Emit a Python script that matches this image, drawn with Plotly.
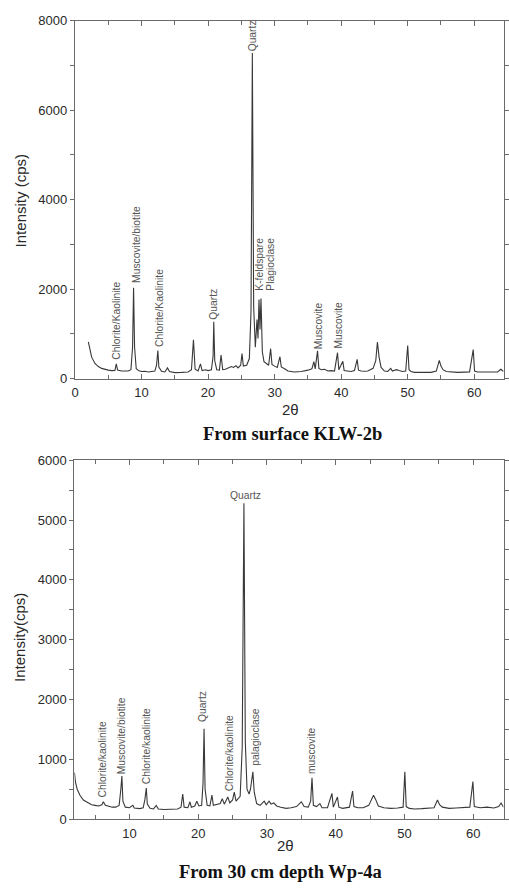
import plotly.graph_objects as go

# --- XRD pattern, surface sample KLW-2b ---
two_theta_top = [
    2.0, 2.2, 2.5, 3.0, 3.5, 4.0, 4.5, 5.0, 5.5, 6.0, 6.2, 6.4, 7.0, 7.5, 8.0, 8.4, 8.65, 8.8, 8.95, 9.2,
    9.6, 10.0, 10.5, 11.0, 11.5, 12.0, 12.25, 12.45, 12.6, 13.0, 13.5, 13.9, 14.2, 15.0, 16.0, 17.0, 17.5,
    17.8, 18.05, 18.5, 18.85, 19.1, 19.6, 20.0, 20.5, 20.75, 20.85, 21.0, 21.3, 21.7, 21.95, 22.2, 22.6,
    23.0, 23.5, 23.8, 24.2, 24.5, 24.9, 25.1, 25.3, 25.8, 26.2, 26.45, 26.65, 26.85, 27.1, 27.35, 27.5,
    27.65, 27.8, 27.95, 28.15, 28.4, 28.8, 29.1, 29.4, 29.6, 30.0, 30.4, 30.8, 31.0, 31.5, 32.0, 33.0,
    34.0, 35.0, 35.6, 35.9, 36.1, 36.45, 36.65, 37.0, 37.5, 38.0, 38.5, 39.0, 39.45, 39.65, 40.25, 40.45,
    41.0, 41.5, 42.0, 42.4, 42.6, 43.0, 43.5, 44.0, 44.8, 45.2, 45.45, 45.7, 46.0, 46.5, 47.0, 47.45,
    47.7, 48.3, 48.7, 49.2, 49.7, 50.0, 50.2, 50.5, 51.0, 52.0, 53.0, 53.5, 54.3, 54.75, 55.0, 55.3,
    55.8, 56.5, 57.5, 58.5, 59.3, 59.85, 60.05, 60.5, 61.5, 62.5, 63.5, 64.0, 64.4,
]
intensity_top = [
    820, 650, 480, 340, 270, 230, 205, 190, 180, 185, 330, 190, 170, 165, 170, 200, 700, 2030, 700, 220,
    175, 160, 165, 150, 160, 170, 300, 630, 260, 165, 150, 240, 160, 135, 140, 150, 200,
    870, 210, 170, 330, 180, 200, 180, 200, 500, 1270, 400, 200, 190, 530, 200, 210,
    240, 270, 250, 290, 240, 300, 560, 280, 300, 450, 1500, 7280, 1600, 700, 1320, 900,
    1770, 1100, 1790, 600, 380, 330, 300, 670, 320, 280, 250, 490, 260, 220, 170, 150,
    160, 190, 220, 380, 220, 620, 230, 200, 210, 170, 180, 170, 580, 200, 390, 180,
    170, 160, 180, 430, 190, 170, 165, 170, 230, 400, 820, 480, 250, 170, 160, 230,
    170, 200, 180, 160, 170, 740, 200, 160, 140, 135, 145, 140, 170, 410, 280, 200,
    160, 145, 140, 145, 150, 650, 170, 150, 150, 140, 150, 210, 160,
]

# --- XRD pattern, 30 cm depth sample Wp-4a ---
two_theta_bot = [
    2.0, 2.15, 2.4, 2.8, 3.3, 4.0, 4.5, 5.0, 5.5, 6.0, 6.2, 6.5, 7.0, 7.5, 8.0, 8.5, 8.75, 8.9, 9.05, 9.4,
    10.0, 10.5, 10.7, 11.5, 12.0, 12.25, 12.45, 12.6, 13.0, 13.5, 13.9, 14.2, 15.0, 16.0, 17.0, 17.5,
    17.75, 17.95, 18.5, 18.8, 19.0, 19.5, 19.8, 20.1, 20.5, 20.7, 20.85, 21.0, 21.3, 21.7, 22.0, 22.2,
    22.7, 23.2, 23.5, 23.8, 24.3, 24.6, 25.0, 25.25, 25.5, 25.8, 26.1, 26.4, 26.65, 26.85, 27.1, 27.4,
    27.6, 27.95, 28.15, 28.5, 29.0, 29.6, 29.9, 30.3, 30.6, 31.0, 31.4, 32.0, 32.8, 33.5, 34.3, 35.0,
    35.4, 36.0, 36.35, 36.55, 36.75, 37.2, 37.7, 38.0, 38.8, 39.45, 39.65, 40.25, 40.45, 41.0, 42.0,
    42.45, 42.65, 43.2, 44.0, 44.8, 45.3, 45.5, 45.8, 46.2, 47.0, 48.0, 49.0, 49.8, 50.05, 50.25, 50.7,
    51.5, 52.5, 53.5, 54.3, 54.8, 55.1, 55.5, 56.5, 57.5, 58.5, 59.5, 59.95, 60.15, 61.0, 62.0, 63.0,
    63.7, 64.05, 64.4,
]
intensity_bot = [
    780, 620, 500, 400, 320, 270, 240, 230, 220, 240, 290, 230, 210, 200, 200, 230, 500, 720, 300, 200,
    190, 230, 185, 175, 190, 330, 520, 250, 180, 170, 230, 170, 160, 165, 170, 200,
    420, 200, 190, 290, 200, 220, 300, 220, 230, 600, 1510, 500, 230, 220, 400, 230,
    240, 260, 340, 250, 370, 270, 320, 450, 300, 340, 380, 1200, 5280, 1300, 500, 420,
    500, 790, 450, 260, 230, 300, 240, 300, 250, 270, 220, 200, 180, 190, 210, 290,
    210, 200, 300, 690, 230, 210, 260, 190, 190, 430, 200, 370, 200, 180, 200,
    470, 210, 190, 190, 230, 370, 400, 330, 220, 190, 180, 185, 200, 790, 210, 180,
    170, 175, 180, 190, 320, 240, 200, 180, 185, 190, 200, 630, 210, 190, 200, 185,
    210, 270, 200,
]

# Phase labels: (text, 2-theta, intensity at the label's lower end)
labels_top = [
    ("Chlorite/Kaolinite", 6.3, 400),
    ("Muscovite/biotite", 9.25, 2120),
    ("Chlorite/Kaolinite", 12.8, 690),
    ("Quartz", 20.85, 1300),
    ("Quartz", 26.65, 7290),
    ("K-feldspare", 27.7, 1940),
    ("Plagioclase", 29.35, 1940),
    ("Muscovite", 36.7, 630),
    ("Muscovite", 39.6, 650),
]
labels_bot = [
    ("Chlorite/kaolinite", 6.05, 350),
    ("Muscovite/biotite", 8.76, 740),
    ("Chlorite/kaolinite", 12.4, 565),
    ("Quartz", 20.7, 1600),
    ("Chlorite/kaolinite", 24.5, 450),
    ("palagioclase", 28.2, 870),
    ("muscovite", 36.5, 740),
]
quartz_bot_label = ("Quartz", 26.9, 5410)

W, H = 509, 893
LINE = "#383838"
AXIS = "#6a6a6a"
TICKFONT = dict(family="Liberation Sans, Arial", size=13, color="#2a2a2a")
LABELFONT = dict(family="Liberation Sans, Arial", size=10.3, color="#555555")

fig = go.Figure()
fig.add_trace(go.Scatter(x=two_theta_top, y=intensity_top, mode="lines",
                         line=dict(color=LINE, width=1.1), xaxis="x", yaxis="y", showlegend=False))
fig.add_trace(go.Scatter(x=two_theta_bot, y=intensity_bot, mode="lines",
                         line=dict(color=LINE, width=1.1), xaxis="x2", yaxis="y2", showlegend=False))


def px_x(p):
    return p / W


def px_y(p):
    return 1 - p / H


axis_common = dict(showgrid=False, zeroline=False, showline=True, linecolor=AXIS, linewidth=1.3,
                   mirror="ticks", tickcolor=AXIS, tickfont=TICKFONT, fixedrange=True)

fig.update_layout(
    width=W, height=H, margin=dict(l=0, r=0, t=0, b=0),
    paper_bgcolor="white", plot_bgcolor="white",
    xaxis=dict(domain=[px_x(72.3), px_x(508.5)], range=[0, 64.4], anchor="y",
               tickmode="linear", tick0=0, dtick=10, ticks="inside", ticklen=5,
               minor=dict(dtick=5, ticks="inside", ticklen=4, tickcolor=AXIS),
               ticklabelstandoff=2, **axis_common),
    yaxis=dict(domain=[px_y(378), px_y(14)], range=[0, 8000], anchor="x",
               tickmode="linear", tick0=0, dtick=2000, ticks="outside", ticklen=4,
               minor=dict(dtick=1000, ticks="outside", ticklen=4, tickcolor=AXIS),
               **axis_common),
    xaxis2=dict(domain=[px_x(71.7), px_x(508.5)], range=[2, 64.4], anchor="y2",
                tickmode="linear", tick0=0, dtick=10, ticks="inside", ticklen=5,
                minor=dict(dtick=5, ticks="inside", ticklen=4, tickcolor=AXIS),
                ticklabelstandoff=2, **axis_common),
    yaxis2=dict(domain=[px_y(826), px_y(461)], range=[0, 6000], anchor="x2",
                tickmode="linear", tick0=0, dtick=1000, ticks="outside", ticklen=4,
                minor=dict(dtick=500, ticks="outside", ticklen=4, tickcolor=AXIS),
                **axis_common),
)

ann = []
for text, xv, yv in labels_top:
    ann.append(dict(text=text, x=xv, y=yv, xref="x", yref="y", showarrow=False, textangle=-90,
                    xanchor="center", yanchor="bottom", font=LABELFONT, borderpad=0))
for text, xv, yv in labels_bot:
    ann.append(dict(text=text, x=xv, y=yv, xref="x2", yref="y2", showarrow=False, textangle=-90,
                    xanchor="center", yanchor="bottom", font=LABELFONT, borderpad=0))
ann.append(dict(text=quartz_bot_label[0], x=quartz_bot_label[1], y=quartz_bot_label[2],
                xref="x2", yref="y2", showarrow=False, xanchor="center", yanchor="middle",
                font=LABELFONT, borderpad=0))

# Axis titles and panel captions
AXTITLE = dict(family="Liberation Sans, Arial", size=15, color="#2a2a2a")
CAPTION = dict(family="Liberation Serif, Times New Roman", size=18.5, color="#111111")
ann += [
    dict(text="2θ", x=px_x(292), y=px_y(409), xref="paper", yref="paper", showarrow=False,
         xanchor="center", yanchor="middle", font=AXTITLE),
    dict(text="<b>From surface KLW-2b</b>", x=px_x(294), y=px_y(434), xref="paper", yref="paper",
         showarrow=False, xanchor="center", yanchor="middle", font=CAPTION),
    dict(text="Intensity (cps)", x=px_x(17), y=px_y(197), xref="paper", yref="paper",
         showarrow=False, textangle=-90, xanchor="center", yanchor="middle", font=AXTITLE),
    dict(text="2θ", x=px_x(287), y=px_y(853), xref="paper", yref="paper", showarrow=False,
         xanchor="center", yanchor="middle", font=AXTITLE),
    dict(text="<b>From 30 cm depth Wp-4a</b>", x=px_x(281), y=px_y(880), xref="paper", yref="paper",
         showarrow=False, xanchor="center", yanchor="middle", font=CAPTION),
    dict(text="Intensity(cps)", x=px_x(15), y=px_y(641), xref="paper", yref="paper",
         showarrow=False, textangle=-90, xanchor="center", yanchor="middle", font=AXTITLE),
]
fig.update_layout(annotations=ann)

fig.write_html("out.html")
